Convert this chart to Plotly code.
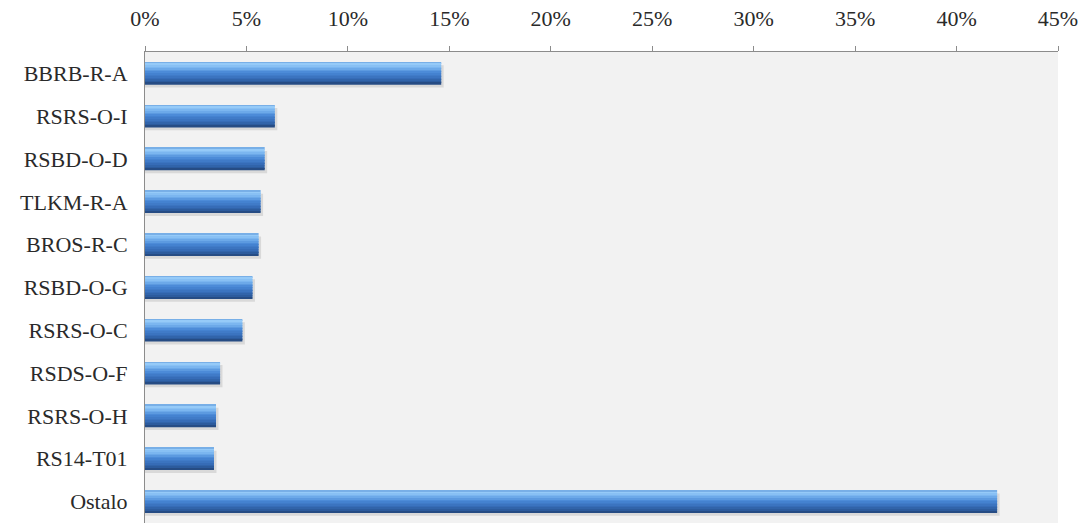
import plotly.graph_objects as go

# Share of total per code
categories = ["BBRB-R-A", "RSRS-O-I", "RSBD-O-D", "TLKM-R-A", "BROS-R-C",
              "RSBD-O-G", "RSRS-O-C", "RSDS-O-F", "RSRS-O-H", "RS14-T01", "Ostalo"]
shares = [0.146, 0.064, 0.059, 0.057, 0.056, 0.053, 0.048, 0.037, 0.035, 0.034, 0.420]
tick_vals = [0, 0.05, 0.10, 0.15, 0.20, 0.25, 0.30, 0.35, 0.40, 0.45]
tick_text = ["0%", "5%", "10%", "15%", "20%", "25%", "30%", "35%", "40%", "45%"]

FONT = "Liberation Serif"
TEXT = "#2a2a2a"

# vertical gradient of the bevelled bar, top (0) to bottom (1)
stops = [(0.00, (104, 160, 222)), (0.10, (150, 203, 248)), (0.28, (118, 178, 238)),
         (0.48, (72, 136, 214)), (0.72, (56, 112, 188)), (0.90, (44, 90, 156)),
         (1.00, (34, 68, 118))]


def grad(t):
    for (t0, c0), (t1, c1) in zip(stops, stops[1:]):
        if t0 <= t <= t1:
            f = (t - t0) / (t1 - t0)
            return "rgb(%d,%d,%d)" % tuple(round(a + (b - a) * f) for a, b in zip(c0, c1))
    return "rgb(%d,%d,%d)" % stops[-1][1]


BAR_W = 0.52
N = 14
fig = go.Figure()

# soft shadow under each bar
fig.add_trace(go.Bar(
    x=[v + 0.0012 for v in shares], y=categories, orientation="h",
    width=BAR_W, offset=-BAR_W / 2 + 0.07,
    marker=dict(color="rgba(90,90,90,0.16)", line=dict(width=0)),
    hoverinfo="skip", showlegend=False,
))

slice_w = BAR_W / N
for i in range(N):
    fig.add_trace(go.Bar(
        x=shares, y=categories, orientation="h",
        width=slice_w * 1.08, offset=-BAR_W / 2 + i * slice_w,
        marker=dict(color=grad((i + 0.5) / N), line=dict(width=0)),
        hoverinfo="skip", showlegend=False,
    ))

fig.update_layout(
    width=1084, height=523,
    margin=dict(l=145, r=26, t=52, b=0),
    paper_bgcolor="white",
    plot_bgcolor="#f2f2f2",
    barmode="overlay",
    font=dict(family=FONT, size=22, color=TEXT),
    xaxis=dict(
        side="top", range=[0, 0.45], tickvals=tick_vals, ticktext=tick_text,
        showgrid=False, zeroline=False,
        showline=True, linecolor="#8c8c8c", linewidth=1,
        ticks="outside", ticklen=5, tickcolor="#8c8c8c",
        ticklabelstandoff=11,
        tickfont=dict(family=FONT, size=22, color=TEXT),
    ),
    yaxis=dict(
        autorange="reversed", showgrid=False, zeroline=False,
        showline=True, linecolor="#8c8c8c", linewidth=1,
        ticks="", ticklabelstandoff=12,
        tickfont=dict(family=FONT, size=22, color=TEXT),
    ),
)

fig.write_html("out.html")
